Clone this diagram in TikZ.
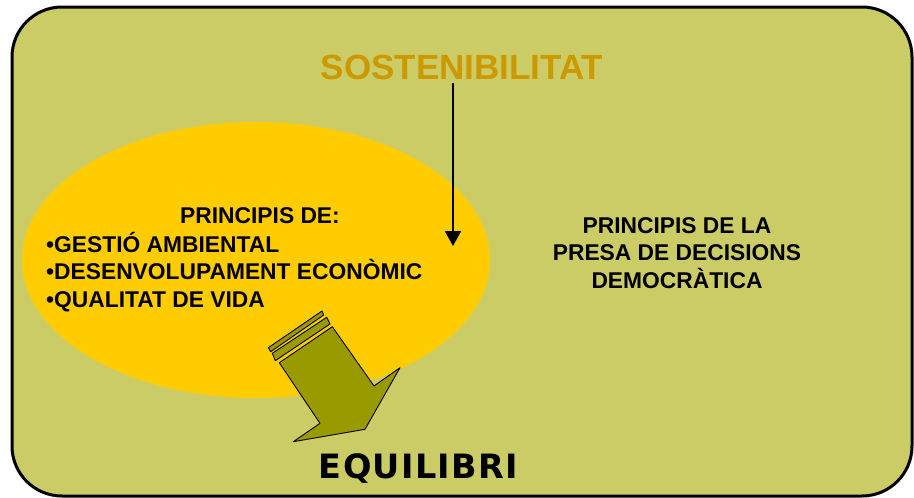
\documentclass[tikz,border=0pt]{standalone}
\usepackage{fontspec}
\setmainfont{Liberation Sans}
\newfontfamily\equilfont[LetterSpace=4]{DejaVu Sans}
\usetikzlibrary{arrows.meta,positioning}
\definecolor{fons}{HTML}{CCCC66}
\definecolor{groc}{HTML}{FFCC00}
\definecolor{oliva}{HTML}{999900}
\definecolor{daurat}{HTML}{CC9900}

\begin{document}
\begin{tikzpicture}[x=1pt,y=-1pt,
			txt/.style = {font=\bfseries\fontsize{22.8}{27.5}\selectfont, inner sep=0pt},
			fletxa/.style = {draw, line width=2pt, -{Triangle[width=16pt,length=15pt]}},
			gruixut/.style = {draw=black, fill=oliva, line width=0.9pt, line join=round},
			]
		
		\useasboundingbox (0,0) rectangle (914,498);
		\draw[fons, fill=fons, draw=black, line width=3pt, rounded corners=50pt] (12,7) rectangle (912,496);
		\fill[groc] (256,260) ellipse[x radius=234, y radius=138];   % <---
		
		\node[font=\bfseries\fontsize{35}{40}\selectfont, text=daurat, inner sep=0pt] (sost) at (462,67) {SOSTENIBILITAT};
		\coordinate (punta) at (453,246);
		\draw[fletxa, shorten <=3pt] (sost.south -| punta) -- (punta);
		
		\node[txt] (princ) at (260,216) {PRINCIPIS DE:};
		\node[txt, align=left, anchor=north west] (llista) at (46,232)
			{\textbullet GESTIÓ AMBIENTAL\\ \textbullet DESENVOLUPAMENT ECONÒMIC\\ \textbullet QUALITAT DE VIDA};
		\node[txt, align=center] (demo) at (677,253)
			{PRINCIPIS DE LA\\ PRESA DE DECISIONS\\ DEMOCRÀTICA};
		
		% fletxa gran
		\draw[gruixut] (268.3,347.7) -- (322,311) -- (323.7,315) -- (270.7,351.7) -- cycle;
		\draw[gruixut] (272.3,353.3) -- (326.7,317.3) -- (330,324) -- (275.3,360.7) -- cycle;
		\draw[gruixut] (279.3,362.7) -- (332.3,326.7) -- (374,386) -- (400,367.7)
			-- (365,429.3) -- (293.3,441.7) -- (320,423.3) -- cycle;
		
		\node[font=\equilfont\bfseries\fontsize{33.5}{38}\selectfont, inner sep=0pt] (equil) at (418.5,468.5) {EQUILIBRI};
		
\end{tikzpicture}
\end{document}
